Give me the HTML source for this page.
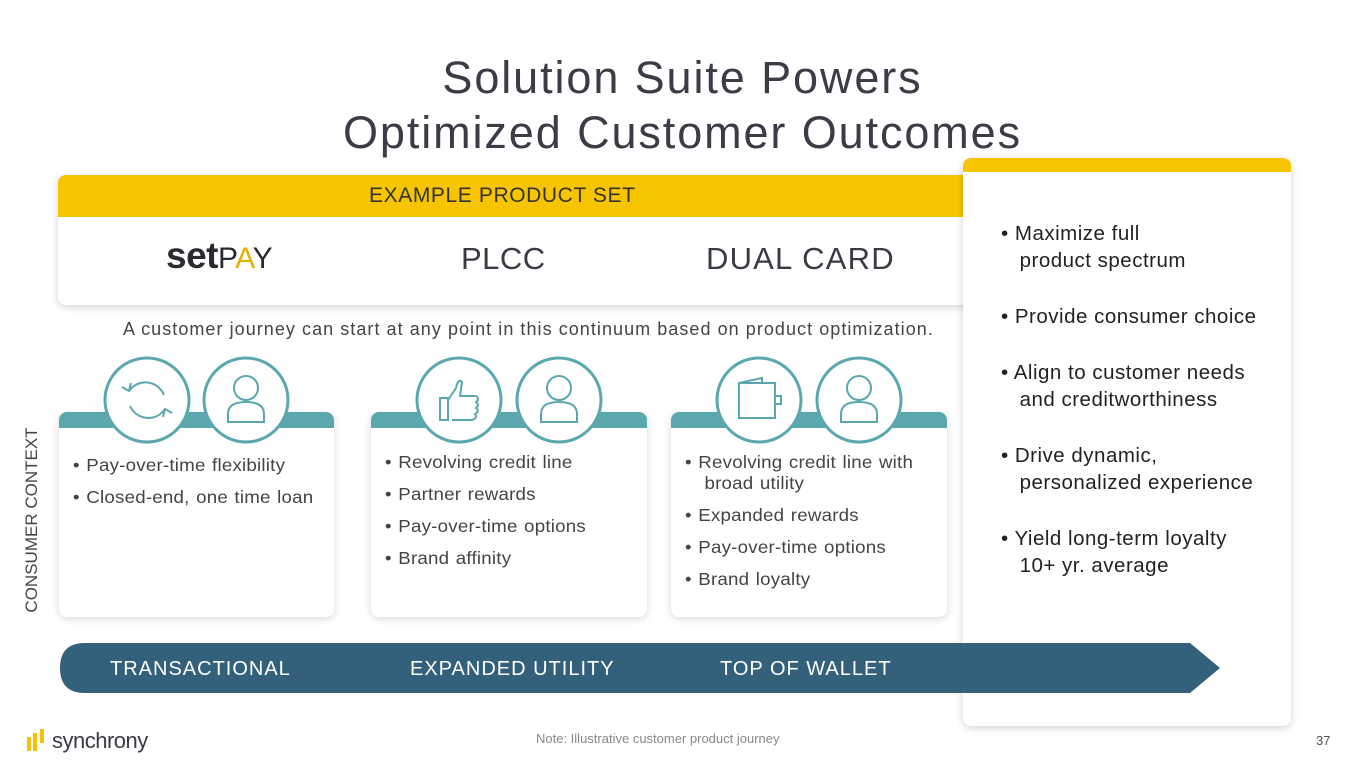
<!DOCTYPE html>
<html><head><meta charset="utf-8"><style>
*{margin:0;padding:0;box-sizing:border-box}
body{width:1365px;height:768px;position:relative;overflow:hidden;background:#fff;font-family:"Liberation Sans",sans-serif;color:#3a3a40}
.a{position:absolute}
.title{left:0;width:1365px;text-align:center;font-size:45px;color:#3c3c46;line-height:55px;letter-spacing:1.9px}
.card{background:#fff;box-shadow:0 2px 8px rgba(0,0,0,.18);border-radius:8px}
.sc{top:412px;height:205px;border-radius:8px;background:#fff;box-shadow:0 2px 8px rgba(0,0,0,.15);overflow:hidden}
.sc .band{position:absolute;left:0;top:0;right:0;height:16px;background:#5ba7ae}
.sc ul{position:absolute;left:14px;top:43px;list-style:none;font-size:17.5px;color:#444;line-height:21px;letter-spacing:0.2px;word-spacing:1px;white-space:nowrap;transform:scaleX(1.07);transform-origin:0 0}
.sc li{margin-bottom:11px}
.rb{list-style:none;font-size:20.5px;color:#222;line-height:27px;letter-spacing:0.5px;white-space:nowrap}
.rb li{margin-bottom:29px}
.bar{color:#fff;font-size:20px;top:658px;letter-spacing:1px}
</style></head><body>
<div class="a title" style="top:50px">Solution Suite Powers</div>
<div class="a title" style="top:105px">Optimized Customer Outcomes</div>

<div class="a card" style="left:58px;top:175px;width:940px;height:130px;overflow:hidden">
 <div class="a" style="left:0;top:0;width:100%;height:42px;background:#f7c500"></div>
 <div class="a" style="left:311px;top:9px;font-size:21px;color:#333;letter-spacing:0.6px">EXAMPLE PRODUCT SET</div>
 <div class="a" style="left:108px;top:60px;font-size:37px;color:#2a2a30;letter-spacing:-0.5px;font-weight:bold">set<span style="font-size:30px;font-weight:normal">P<span style="color:#e6b000">A</span>Y</span></div>
 <div class="a" style="left:403px;top:66px;font-size:31px;color:#3a3a44;letter-spacing:0.5px">PLCC</div>
 <div class="a" style="left:648px;top:66px;font-size:31px;color:#3a3a44;letter-spacing:1.2px">DUAL CARD</div>
</div>

<div class="a card" style="left:963px;top:158px;width:328px;height:568px;overflow:hidden">
 <div class="a" style="left:0;top:0;width:100%;height:14px;background:#f7c500"></div>
 <ul class="a rb" style="left:38px;top:62px">
  <li>• Maximize full<br>&nbsp;&nbsp;&nbsp;product spectrum</li>
  <li>• Provide consumer choice</li>
  <li>• Align to customer needs<br>&nbsp;&nbsp;&nbsp;and creditworthiness</li>
  <li>• Drive dynamic,<br>&nbsp;&nbsp;&nbsp;personalized experience</li>
  <li>• Yield long-term loyalty<br>&nbsp;&nbsp;&nbsp;10+ yr. average</li>
 </ul>
</div>

<div class="a" style="left:123px;top:319px;font-size:18px;color:#444;letter-spacing:1.05px;white-space:nowrap">A customer journey can start at any point in this continuum based on product optimization.</div>

<div class="a" style="left:22px;top:620px;transform:rotate(-90deg);transform-origin:0 0;font-size:17px;color:#444;width:200px;text-align:center">CONSUMER CONTEXT</div>

<div class="a sc" style="left:59px;width:275px"><div class="band"></div><ul><li>• Pay-over-time flexibility</li><li>• Closed-end, one time loan</li></ul></div>
<div class="a sc" style="left:371px;width:276px"><div class="band"></div><ul style="top:40px"><li>• Revolving credit line</li><li>• Partner rewards</li><li>• Pay-over-time options</li><li>• Brand affinity</li></ul></div>
<div class="a sc" style="left:671px;width:276px"><div class="band"></div><ul style="top:40px"><li>• Revolving credit line with<br>&nbsp;&nbsp;&nbsp;broad utility</li><li>• Expanded rewards</li><li>• Pay-over-time options</li><li>• Brand loyalty</li></ul></div>

<svg class="a" style="left:0;top:0" width="1365" height="768">
 <g fill="#fff" stroke="#5ba7ae" stroke-width="3">
  <circle cx="147" cy="400" r="42"/><circle cx="246" cy="400" r="42"/>
  <circle cx="459" cy="400" r="42"/><circle cx="559" cy="400" r="42"/>
  <circle cx="759" cy="400" r="42"/><circle cx="859" cy="400" r="42"/>
 </g>
 <g fill="none" stroke="#5ba7ae" stroke-width="2">
  <path d="M129 391 A20 20 0 0 1 164 395 M165 409 A20 20 0 0 1 130 406"/>
  <path d="M122 387 L129 391 L131 383 M172 413 L165 409 L163 417"/>
  <g id="p"><circle cx="246" cy="388" r="12"/><path d="M228 422 L228 414 Q228 402 246 402 Q264 402 264 414 L264 422 Z"/></g>
  <use href="#p" x="313"/><use href="#p" x="613"/>
  <path d="M440 398 L448 398 L448 420 L440 420 Z M448 400 L456 388 Q458 378 462 382 L460 396 L476 396 Q480 399 476 402 Q480 405 476 408 Q480 411 475 414 Q478 418 472 420 L452 420"/>
  <path d="M739 383 L775 383 L775 418 L739 418 Z M739 383 L762 378 L762 383 M775 396 L781 396 L781 404 L775 404"/>
 </g>
 <path d="M85 643 L1190 643 L1220 668 L1190 693 L85 693 Q60 693 60 668 Q60 643 85 643 Z" fill="#33607a"/>
 <g fill="#f7c000"><rect x="27" y="737" width="4" height="14"/><rect x="33" y="733" width="4" height="18"/><rect x="40" y="729" width="4" height="14"/></g>
</svg>
<div class="a bar" style="left:110px">TRANSACTIONAL</div>
<div class="a bar" style="left:410px">EXPANDED UTILITY</div>
<div class="a bar" style="left:720px">TOP OF WALLET</div>
<div class="a" style="left:52px;top:728px;font-size:22px;color:#3a3a44;letter-spacing:-0.5px">synchrony</div>
<div class="a" style="left:536px;top:731px;font-size:13px;color:#888">Note: Illustrative customer product journey</div>
<div class="a" style="left:1316px;top:733px;font-size:13px;color:#555">37</div>
</body></html>
